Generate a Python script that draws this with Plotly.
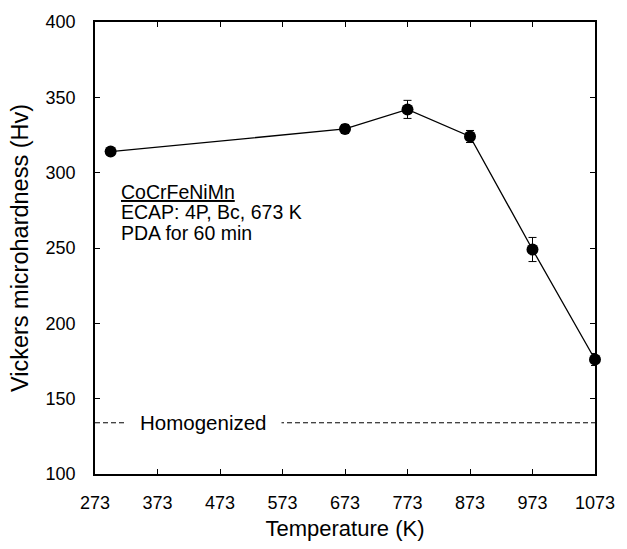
import plotly.graph_objects as go

temperature = [298, 673, 773, 873, 973, 1073]
hardness = [314, 329, 342, 324, 249, 176]
hardness_err = [2, 3, 6, 4, 8, 4]
homogenized = 134
x_ticks = [273, 373, 473, 573, 673, 773, 873, 973, 1073]
y_ticks = [100, 150, 200, 250, 300, 350, 400]
info_lines = ["<u>CoCrFeNiMn</u>", "ECAP: 4P, Bc, 673 K", "PDA for 60 min"]
info_y = [287.5, 273.8, 260.1]

FONT = "Liberation Sans, Arial, sans-serif"

fig = go.Figure()
fig.add_hline(y=homogenized, line=dict(color="black", width=1, dash="5px,3px"))
fig.add_trace(go.Scatter(
    x=temperature, y=hardness, mode="lines+markers",
    line=dict(color="black", width=1.3),
    marker=dict(color="black", size=12),
    error_y=dict(type="data", array=hardness_err, color="black", thickness=1, width=4),
    showlegend=False, cliponaxis=False,
))
fig.add_annotation(x=446, y=homogenized, text="Homogenized", showarrow=False,
                   font=dict(family=FONT, size=20.5, color="black"),
                   bgcolor="white", borderpad=14, xanchor="center", yanchor="middle")
for txt, yy in zip(info_lines, info_y):
    fig.add_annotation(x=311, y=yy, text=txt, showarrow=False, align="left",
                       xanchor="left", yanchor="middle",
                       font=dict(family=FONT, size=19.5, color="black"))

axis_common = dict(showline=True, linecolor="black", linewidth=1.5, mirror="allticks",
                   ticks="inside", ticklen=5, tickwidth=1, tickcolor="black",
                   showgrid=False, zeroline=False,
                   tickfont=dict(family=FONT, size=18, color="black"))
fig.update_xaxes(range=[273, 1073], tickvals=x_ticks, ticklabelstandoff=12,
                 title=dict(text="Temperature (K)", font=dict(family=FONT, size=22, color="black"), standoff=8),
                 **axis_common)
fig.update_yaxes(range=[100, 400], tickvals=y_ticks, ticklabelstandoff=14,
                 title=dict(text="Vickers microhardness (Hv)", font=dict(family=FONT, size=23.5, color="black"), standoff=10),
                 **axis_common)
fig.update_layout(width=627, height=549, plot_bgcolor="white", paper_bgcolor="white",
                  margin=dict(l=95, r=27, t=17, b=72), font=dict(family=FONT))
fig.write_html("out.html", post_script="document.body.style.margin='0';",
               config={"displayModeBar": False})
